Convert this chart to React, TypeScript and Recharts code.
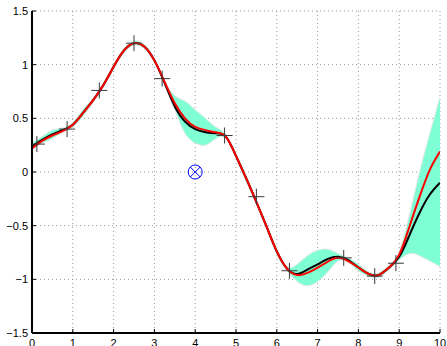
import React from 'react';
import {
  ComposedChart,
  Area,
  Line,
  Scatter,
  XAxis,
  YAxis,
  CartesianGrid,
} from 'recharts';

const xs = [
  0, 0.25, 0.5, 0.75, 1, 1.25, 1.5, 1.75, 2, 2.25, 2.5, 2.75, 3, 3.25, 3.5, 3.75,
  4, 4.25, 4.5, 4.75, 5, 5.25, 5.5, 5.75, 6, 6.25, 6.5, 6.75, 7, 7.25, 7.5, 7.75,
  8, 8.25, 8.5, 8.75, 9, 9.25, 9.5, 9.75, 10,
];

// true function (red)
const truth = [
  0.22, 0.29, 0.34, 0.38, 0.44, 0.55, 0.67, 0.81, 0.98, 1.13, 1.2, 1.17, 1.04, 0.84,
  0.64, 0.5, 0.42, 0.39, 0.37, 0.33, 0.15, -0.06, -0.28, -0.51, -0.74, -0.9, -0.96,
  -0.94, -0.89, -0.835, -0.8, -0.83, -0.89, -0.95, -0.96, -0.89, -0.77, -0.51, -0.23,
  0.02, 0.19,
];

// posterior mean (black)
const mean = [
  0.24, 0.3, 0.35, 0.39, 0.44, 0.55, 0.67, 0.81, 0.98, 1.13, 1.2, 1.17, 1.04, 0.83,
  0.61, 0.47, 0.4, 0.37, 0.36, 0.33, 0.15, -0.06, -0.28, -0.51, -0.74, -0.9, -0.95,
  -0.91, -0.86, -0.81, -0.79, -0.82, -0.89, -0.95, -0.96, -0.89, -0.79, -0.59, -0.38,
  -0.21, -0.1,
];

// confidence band
const lower = [
  0.21, 0.27, 0.31, 0.37, 0.42, 0.52, 0.65, 0.79, 0.96, 1.11, 1.18, 1.15, 1.02, 0.81,
  0.58, 0.36, 0.27, 0.25, 0.31, 0.31, 0.13, -0.09, -0.3, -0.53, -0.77, -0.92, -1.02,
  -1.06, -1.02, -0.93, -0.83, -0.84, -0.92, -0.97, -0.98, -0.91, -0.82, -0.76, -0.78,
  -0.83, -0.88,
];
const upper = [
  0.27, 0.33, 0.39, 0.41, 0.46, 0.58, 0.69, 0.83, 1.0, 1.15, 1.22, 1.19, 1.06, 0.85,
  0.71, 0.66, 0.58, 0.5, 0.42, 0.35, 0.17, -0.03, -0.26, -0.49, -0.71, -0.88, -0.86,
  -0.78, -0.73, -0.72, -0.76, -0.8, -0.86, -0.93, -0.94, -0.87, -0.74, -0.4, 0.0,
  0.36, 0.7,
];

// observed samples (crosses)
const obsX = [0.12, 0.86, 1.65, 2.5, 3.19, 4.72, 5.5, 6.31, 7.64, 8.4, 8.92];
const obsY = [0.26, 0.4, 0.76, 1.2, 0.87, 0.34, -0.23, -0.92, -0.8, -0.97, -0.85];

// query point
const queryX = [4];
const queryY = [0];

const xTicks = [0, 1, 2, 3, 4, 5, 6, 7, 8, 9, 10];
const yTicks = [-1.5, -1, -0.5, 0, 0.5, 1, 1.5];

const rows = xs.map((x, i) => ({
  x,
  truth: truth[i],
  mean: mean[i],
  band: [lower[i], upper[i]],
}));
const obs = obsX.map((x, i) => ({ x, y: obsY[i] }));
const query = queryX.map((x, i) => ({ x, y: queryY[i] }));

const font = { fontFamily: 'Liberation Sans, Arial, sans-serif', fontSize: 11, fill: '#000' };

const Cross = (props: any) => {
  const { cx, cy } = props;
  return (
    <g stroke="#3a3a3a" strokeWidth={1}>
      <line x1={cx - 8} y1={cy} x2={cx + 8} y2={cy} />
      <line x1={cx} y1={cy - 8} x2={cx} y2={cy + 8} />
    </g>
  );
};

const CircleX = (props: any) => {
  const { cx, cy } = props;
  const r = 7;
  const d = r * 0.707;
  return (
    <g stroke="#0000ff" strokeWidth={1} fill="none">
      <circle cx={cx} cy={cy} r={r} />
      <line x1={cx - d} y1={cy - d} x2={cx + d} y2={cy + d} />
      <line x1={cx - d} y1={cy + d} x2={cx + d} y2={cy - d} />
    </g>
  );
};

const fmt = (v: number) => (v < 0 ? '\u2212' + String(-v) : String(v));

export default function App() {
  return (
    <div style={{ position: 'absolute', left: 0, top: 0, background: '#fff' }}>
      <ComposedChart
        width={447}
        height={346}
        data={rows}
        margin={{ top: 11, right: 7, bottom: 0, left: 0 }}
      >
        <CartesianGrid stroke="#999" strokeDasharray="1 3" />
        <XAxis
          dataKey="x"
          type="number"
          domain={[0, 10]}
          ticks={xTicks}
          height={13}
          tick={font}
          tickSize={-4}
          tickMargin={10}
          tickLine={{ stroke: '#000' }}
          axisLine={{ stroke: '#000', strokeWidth: 2 }}
          allowDataOverflow
        />
        <XAxis
          xAxisId="top"
          orientation="top"
          type="number"
          domain={[0, 10]}
          ticks={xTicks}
          height={0}
          tick={false}
          tickSize={-4}
          tickLine={{ stroke: '#000' }}
          axisLine={{ stroke: '#000', strokeWidth: 2 }}
        />
        <YAxis
          type="number"
          domain={[-1.5, 1.5]}
          ticks={yTicks}
          width={32}
          tick={font}
          tickFormatter={fmt}
          tickSize={-4}
          tickMargin={8}
          tickLine={{ stroke: '#000' }}
          axisLine={{ stroke: '#000', strokeWidth: 2 }}
          allowDataOverflow
        />
        <YAxis
          yAxisId="right"
          orientation="right"
          type="number"
          domain={[-1.5, 1.5]}
          ticks={yTicks}
          width={0}
          tick={false}
          tickSize={-4}
          tickLine={{ stroke: '#000' }}
          axisLine={{ stroke: '#000', strokeWidth: 2 }}
        />
        <Area
          dataKey="band"
          type="natural"
          fill="#7fffd4"
          fillOpacity={1}
          stroke="#e0e8e4"
          strokeWidth={1}
          isAnimationActive={false}
        />
        <Line
          dataKey="mean"
          type="natural"
          stroke="#000"
          strokeWidth={2}
          dot={false}
          isAnimationActive={false}
        />
        <Line
          dataKey="truth"
          type="natural"
          stroke="#ff0000"
          strokeWidth={2}
          dot={false}
          isAnimationActive={false}
        />
        <Scatter data={obs} dataKey="y" shape={Cross} isAnimationActive={false} />
        <Scatter data={query} dataKey="y" shape={CircleX} isAnimationActive={false} />
      </ComposedChart>
    </div>
  );
}
